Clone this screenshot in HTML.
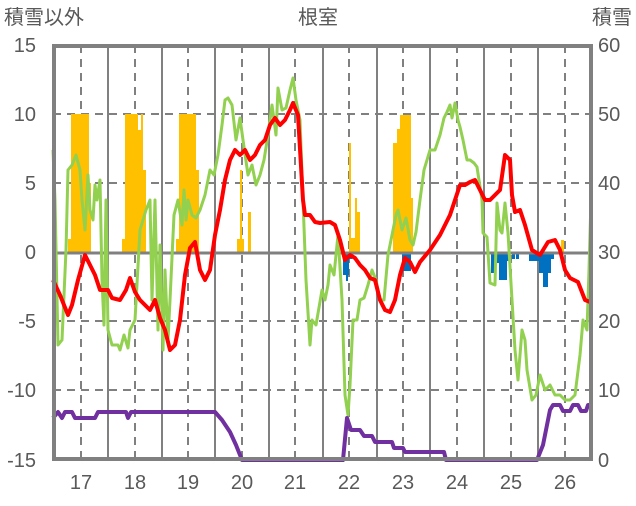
<!DOCTYPE html>
<html><head><meta charset="utf-8"><style>
body{margin:0;background:#fff;width:636px;height:501px;overflow:hidden}
text{font-family:"Liberation Sans","Noto Sans CJK JP",sans-serif;fill:#595959}
</style></head><body>
<svg width="636" height="501" xmlns="http://www.w3.org/2000/svg">
<g font-size="20">
<text x="4" y="24">積雪以外</text>
<text x="318" y="24" text-anchor="middle">根室</text>
<text x="632" y="24" text-anchor="end">積雪</text>
<g text-anchor="end">
<text x="36" y="52">15</text><text x="36" y="121">10</text><text x="36" y="190">5</text><text x="36" y="259">0</text><text x="36" y="328">-5</text><text x="36" y="397">-10</text><text x="36" y="467">-15</text>
</g>
<g text-anchor="start">
<text x="598" y="52">60</text><text x="598" y="121">50</text><text x="598" y="190">40</text><text x="598" y="259">30</text><text x="598" y="328">20</text><text x="598" y="397">10</text><text x="598" y="467">0</text>
</g>
<g text-anchor="middle">
<text x="81" y="489">17</text><text x="135" y="489">18</text><text x="188" y="489">19</text><text x="242" y="489">20</text><text x="295" y="489">21</text><text x="349" y="489">22</text><text x="403" y="489">23</text><text x="457" y="489">24</text><text x="511" y="489">25</text><text x="565" y="489">26</text>
</g>
</g>
<g stroke="#808080" stroke-width="2" stroke-dasharray="8,6">
<line x1="53" y1="114" x2="592" y2="114"/><line x1="53" y1="183" x2="592" y2="183"/><line x1="53" y1="321" x2="592" y2="321"/><line x1="53" y1="390" x2="592" y2="390"/>
<line x1="81" y1="45" x2="81" y2="460"/><line x1="135" y1="45" x2="135" y2="460"/><line x1="188" y1="45" x2="188" y2="460"/><line x1="242" y1="45" x2="242" y2="460"/><line x1="295" y1="45" x2="295" y2="460"/><line x1="349" y1="45" x2="349" y2="460"/><line x1="403" y1="45" x2="403" y2="460"/><line x1="457" y1="45" x2="457" y2="460"/><line x1="511" y1="45" x2="511" y2="460"/><line x1="565" y1="45" x2="565" y2="460"/>
</g>
<g stroke="#808080" stroke-width="2">
<line x1="108" y1="45" x2="108" y2="460"/><line x1="162" y1="45" x2="162" y2="460"/><line x1="215" y1="45" x2="215" y2="460"/><line x1="269" y1="45" x2="269" y2="460"/><line x1="323" y1="45" x2="323" y2="460"/><line x1="377" y1="45" x2="377" y2="460"/><line x1="430" y1="45" x2="430" y2="460"/><line x1="484" y1="45" x2="484" y2="460"/><line x1="538" y1="45" x2="538" y2="460"/>
</g>
<g fill="#FFC000">
<rect x="68" y="239" width="3" height="14"/><rect x="71" y="114" width="18" height="139"/><rect x="89" y="183" width="2" height="70"/>
<rect x="122" y="239" width="3" height="14"/><rect x="125" y="114" width="13" height="139"/><rect x="138" y="130" width="3" height="123"/><rect x="141" y="114" width="2" height="139"/><rect x="143" y="170" width="3" height="83"/>
<rect x="176" y="239" width="3" height="14"/><rect x="179" y="114" width="17" height="139"/><rect x="196" y="170" width="3" height="83"/>
<rect x="237" y="239" width="7" height="14"/><rect x="240" y="170" width="2" height="83"/><rect x="248" y="212" width="3" height="41"/>
<rect x="349" y="143" width="2" height="110"/><rect x="351" y="238" width="4" height="15"/><rect x="355" y="198" width="2" height="55"/><rect x="357" y="212" width="3" height="41"/>
<rect x="393" y="143" width="4" height="110"/><rect x="397" y="129" width="3" height="124"/><rect x="400" y="115" width="11" height="138"/><rect x="411" y="198" width="2" height="55"/>
<rect x="561" y="240" width="3" height="13"/>
</g>
<g fill="#0070C0">
<rect x="343" y="253" width="6" height="22"/><rect x="346" y="253" width="2" height="28"/><rect x="349" y="253" width="3" height="6"/>
<rect x="402" y="253" width="9" height="18"/>
<rect x="491" y="253" width="4" height="20"/><rect x="495" y="253" width="4" height="10"/><rect x="499" y="253" width="8" height="27"/><rect x="507" y="253" width="3" height="8"/><rect x="512" y="253" width="3" height="6"/><rect x="516" y="253" width="3" height="6"/>
<rect x="529" y="253" width="10" height="8"/><rect x="539" y="253" width="12" height="20"/><rect x="543" y="253" width="5" height="34"/><rect x="551" y="253" width="3" height="6"/>
</g>
<line x1="53" y1="253" x2="592" y2="253" stroke="#808080" stroke-width="3"/>
<polyline fill="none" stroke="#92D050" stroke-width="3" stroke-linejoin="round" points="53,150 55,200 58,345 62,340 66,250 68,170 72,165 76,155 80,170 82,200 85,230 88,175 90,210 93,220 95,185 97,200 100,180 102,280 104,325 106,200 108,330 112,345 118,345 120,350 124,335 128,348 130,330 135,320 140,230 146,210 150,200 152,300 155,200 158,330 160,245 163,350 165,270 168,340 170,300 174,215 178,200 182,225 184,190 186,220 188,200 192,215 196,218 200,210 205,195 210,170 214,175 218,155 222,125 225,100 228,98 232,105 236,140 240,118 243,140 248,175 252,165 256,185 260,175 264,160 268,135 272,105 276,135 278,88 282,110 286,108 290,90 293,78 296,100 300,120 303,200 306,280 310,345 312,320 316,325 322,290 325,300 328,285 330,265 334,275 336,255 338,235 342,300 345,395 348,415 350,385 353,320 357,320 360,300 364,298 368,285 372,270 376,280 380,300 384,300 388,255 392,235 396,215 398,210 402,230 406,218 410,240 413,245 416,232 420,200 424,170 430,150 435,150 440,135 444,118 447,112 450,105 452,118 455,103 458,120 460,127 463,140 467,160 470,160 474,163 477,167 482,200 483,233 487,237 490,283 495,285 497,203 500,230 502,233 505,203 508,233 512,300 515,350 518,380 522,330 525,340 527,370 532,400 536,395 540,375 545,390 550,385 555,395 560,395 565,400 570,400 575,395 580,355 583,320 587,330 589,270 591,200"/>
<polyline fill="none" stroke="#FF0000" stroke-width="4" stroke-linejoin="round" points="53,280 60,295 68,315 72,305 78,280 85,255 90,265 95,275 100,290 108,290 112,298 120,300 126,290 130,278 135,292 140,300 145,305 150,310 155,300 160,318 165,330 170,350 175,345 180,320 185,275 190,248 195,242 200,270 205,280 210,270 215,235 220,210 225,180 230,160 235,150 240,155 245,150 250,160 255,155 260,145 265,140 270,125 275,118 280,125 285,120 290,110 293,103 298,115 303,200 305,215 310,215 315,222 320,223 330,222 335,225 340,240 345,260 350,255 355,258 360,265 365,270 370,278 375,280 380,300 385,310 390,312 395,300 400,275 405,258 410,262 415,272 420,262 430,250 440,235 450,215 455,200 460,185 465,185 470,182 475,180 480,190 485,200 490,200 495,195 500,190 505,155 510,160 512,195 515,212 520,210 525,225 532,250 540,255 548,242 555,240 560,250 565,270 570,278 578,282 585,300 590,302"/>
<polyline fill="none" stroke="#7030A0" stroke-width="4" stroke-linejoin="round" points="53,418 58,412 62,418 65,412 72,412 75,418 95,418 98,412 126,412 128,418 131,412 215,412 222,420 230,432 236,445 242,460 343,460 347,418 351,430 360,430 364,436 372,436 375,442 392,442 394,448 403,448 405,452 444,452 446,460 537,460 543,445 546,430 550,410 553,405 560,405 563,411 570,411 573,405 578,405 581,411 586,411 588,405 591,405"/>
<rect x="54" y="46" width="537" height="413" fill="none" stroke="#808080" stroke-width="4"/>
</svg>
</body></html>
